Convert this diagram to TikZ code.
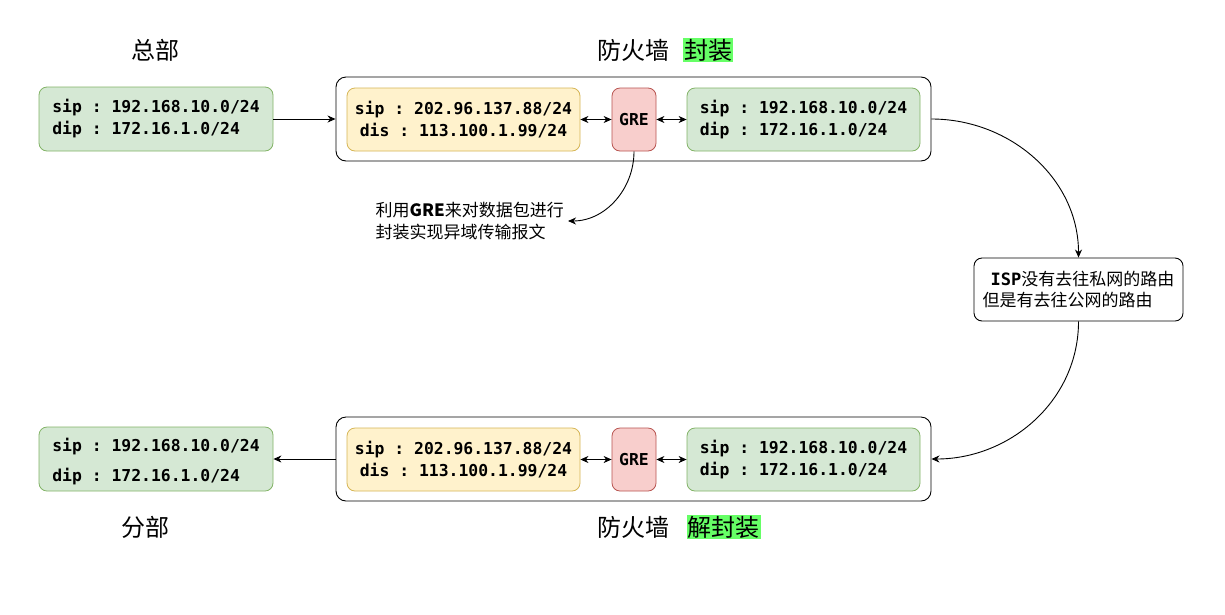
\documentclass[tikz,border=0pt]{standalone}
\usepackage{fontspec}
\usetikzlibrary{arrows.meta}
\setmainfont{Noto Sans CJK SC}
\setmonofont{DejaVu Sans Mono}
\definecolor{grfill}{HTML}{D5E8D4}
\definecolor{grline}{HTML}{82B366}
\definecolor{yefill}{HTML}{FFF2CC}
\definecolor{yeline}{HTML}{D6B656}
\definecolor{rdfill}{HTML}{F8CECC}
\definecolor{rdline}{HTML}{B85450}
\definecolor{mark}{HTML}{66FF66}
\newcommand{\mono}{\fontsize{16.4}{22}\selectfont\ttfamily\bfseries}
\newcommand{\cjk}[1]{\fontsize{#1}{1.25\dimexpr#1pt\relax}\selectfont}

\begin{document}
\begin{tikzpicture}[x=1pt,y=-1pt,>={Stealth[length=8pt,width=7pt,inset=2.5pt]},
    box/.style={rounded corners=8pt,line width=0.8pt,inner sep=0pt,font=\mono},
    gbox/.style={box,draw=grline,fill=grfill,minimum width=233pt,minimum height=63pt,align=left},
    ybox/.style={box,draw=yeline,fill=yefill,minimum width=233pt,minimum height=63pt,align=center},
    rbox/.style={box,draw=rdline,fill=rdfill,minimum width=44pt,minimum height=63pt},
    fwbox/.style={draw,fill=white,rounded corners=10pt,line width=0.9pt,minimum width=595pt,minimum height=84pt},
    title/.style={font=\cjk{24},inner sep=2pt},
    note/.style={font=\cjk{17},align=left,inner sep=4pt},
    link/.style={->,line width=0.9pt}]

    \useasboundingbox (0,0) rectangle (1225,614);

    % draw titles
    \node[title] (hqlabel) at (155,50) {总部};
    \node[title] (brlabel) at (145,527) {分部};
    \node[title] (fwlabeltop) at (633.5,50) {防火墙};
    \node[title,fill=mark,inner sep=1pt] (enctag) at (708,50) {封装};
    \node[title] (fwlabelbot) at (633.5,527) {防火墙};
    \node[title,fill=mark,inner sep=1pt] (dectag) at (723.5,527) {解封装};

    % draw sites
    \node[gbox,minimum width=234pt,minimum height=64pt] (hq) at (156,119)
      {sip : 192.168.10.0/24\\dip : 172.16.1.0/24};
    \node[gbox,minimum width=234pt,minimum height=64pt,font=\fontsize{16.4}{30}\selectfont\ttfamily\bfseries] (branch) at (156,459)
      {\rule{0pt}{18.5pt}sip : 192.168.10.0/24\\dip : 172.16.1.0/24};

    % draw firewalls
    \node[fwbox] (fwtop) at (633.5,119) {};
    \node[fwbox] (fwbot) at (633.5,459) {};
    \foreach \r/\y in {top/119.5,bot/459.5} {
      \node[ybox] (y\r) at (463.5,\y) {sip : 202.96.137.88/24\\dis : 113.100.1.99/24};
      \node[rbox] (gre\r) at (634,\y) {GRE};
      \node[gbox] (g\r) at (803.5,\y) {sip : 192.168.10.0/24\\dip : 172.16.1.0/24};
      \draw[link,<->] (y\r) -- (gre\r);
      \draw[link,<->] (gre\r) -- (g\r);
    }

    % draw notes
    \node[note,anchor=east] (gre) at (568,221)
      {利用\textbf{GRE}来对数据包进行\\封装实现异域传输报文};
    \node[draw,rounded corners=8pt,line width=0.9pt,font=\cjk{17},align=left,
      minimum width=209pt,minimum height=63pt,inner sep=2pt] (isp) at (1078.5,289.5)
      {\hspace{8pt}{\ttfamily\bfseries ISP}没有去往私网的路由\\但是有去往公网的路由};

    % draw arrows
    \draw[link] (hq) -- (fwtop);
    \draw[link] (fwbot) -- (branch);
    \draw[link] (gretop.south) to[out=-90,in=0] (gre.east);
    \draw[link] (fwtop.east) to[out=0,in=90] (isp.north);
    \draw[link] (isp.south) to[out=-90,in=0] (fwbot.east);
  \end{tikzpicture}
\end{document}
